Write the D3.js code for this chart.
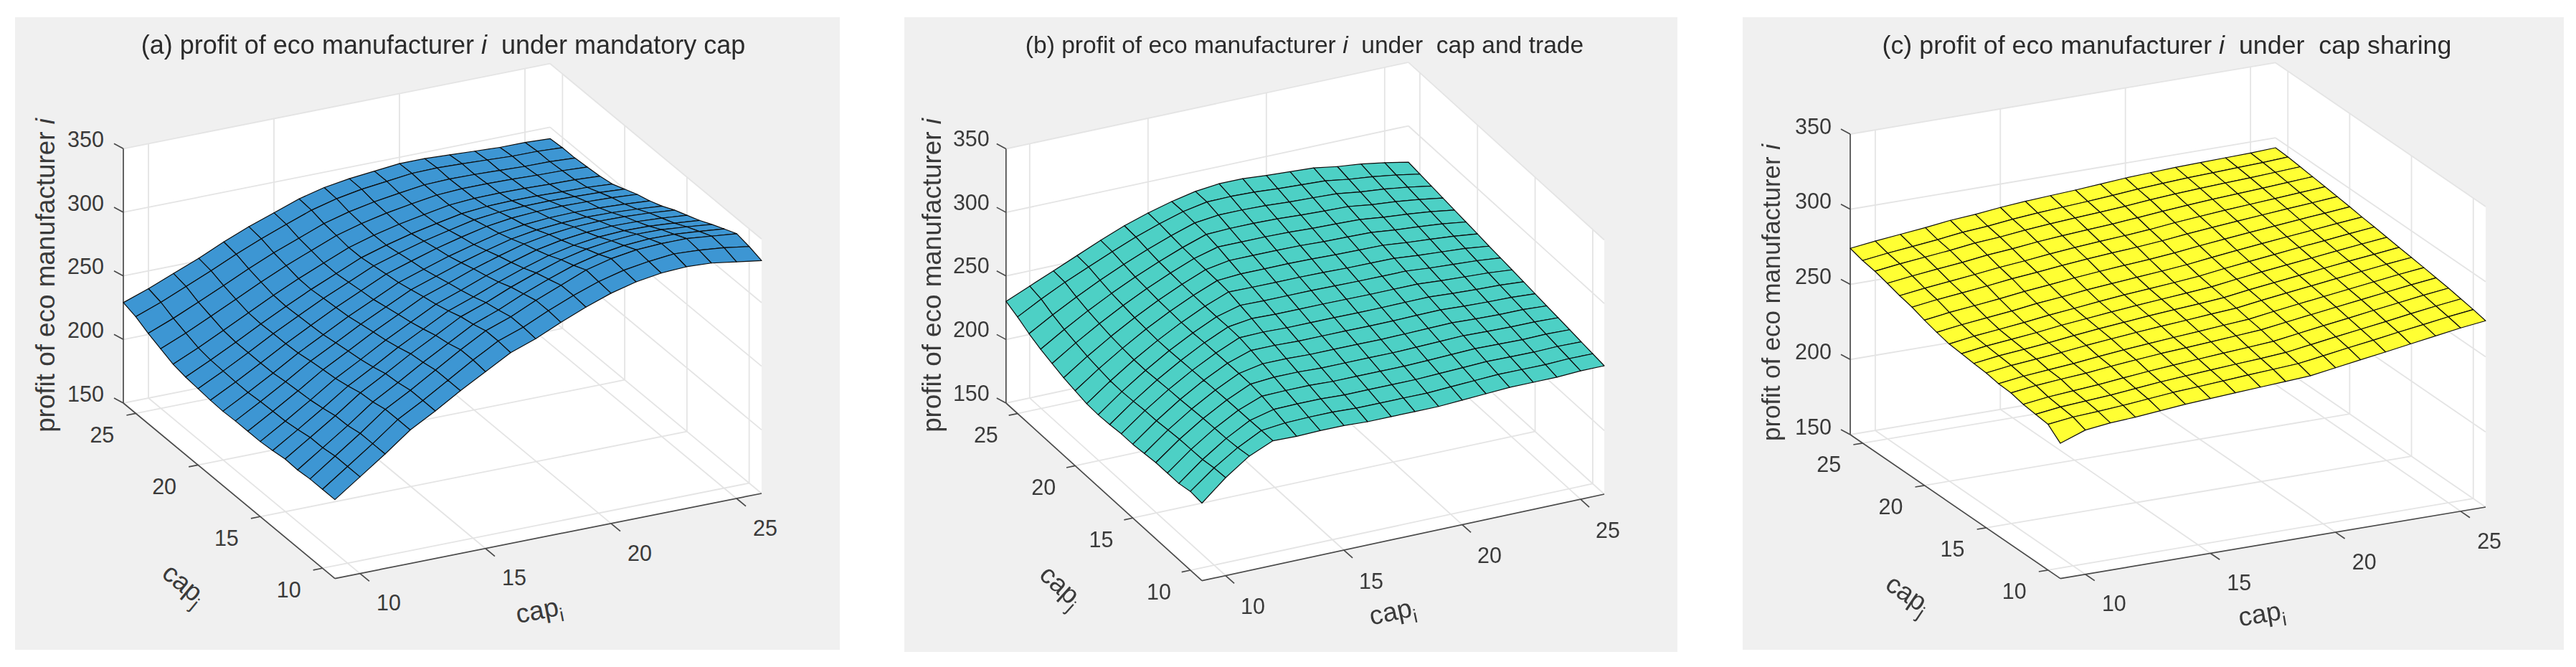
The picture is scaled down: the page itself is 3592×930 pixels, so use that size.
<!DOCTYPE html>
<html><head><meta charset="utf-8">
<script src="https://cdnjs.cloudflare.com/ajax/libs/d3/7.8.5/d3.min.js"></script>
<style>html,body{margin:0;padding:0;background:#fff}svg{display:block}text{font-family:"Liberation Sans",Arial,sans-serif;fill:#3a3a3a;white-space:pre}</style>
</head><body><svg id="c" width="3592" height="930"></svg>
<script>
const capI=[9,10,11,12,13,14,15,16,17,18,19,20,21,22,23,24,25,26];
const capJ=[9,10,11,12,13,14,15,16,17,18,19,20,21,22,23,24,25,26];
const capTicks=[10,15,20,25];
const profitTicks=[150,200,250,300,350];
const titlesA=["(a) profit of eco manufacturer ","i","  under mandatory cap"];
const titlesB=["(b) profit of eco manufacturer ","i","  under  cap and trade"];
const titlesC=["(c) profit of eco manufacturer ","i","  under  cap sharing"];
// rows: capJ ascending; columns: capI ascending
const profitMandatory=[
[212,226,240,255,266,278,289,300,307,316,324,331,336,339,340,339,336,333],
[212,226,240,255,266,278,290,301,308,317,325,332,337,340,342,341,339,336],
[212,226,240,255,266,278,290,301,308,317,325,333,338,341,342,342,340,338],
[211,224.5,238,252.6,263.9,275.9,286.9,297.9,305.3,314,321.6,328.5,333.3,336.3,337.6,337.3,335.6,333.6],
[211.5,224.5,237.6,251.7,262.8,274.5,285,295.8,302.9,311.2,318.4,324.8,329.3,331.9,333.2,332.8,331.1,329.1],
[210,222.5,235.4,248.9,259.9,271.5,281.9,292.3,299.3,307.1,314,320.1,324.2,326.8,327.8,327.4,325.9,324.1],
[209,221.1,233.7,246.8,257.7,269,279.2,289.4,296.4,303.9,310.5,316.3,320.1,322.4,323.3,322.9,321.7,320],
[209,220.7,232.8,245.6,256.3,267.3,277.2,287.2,294,301.2,307.3,312.9,316.4,318.4,319.1,318.7,317.6,316],
[209,220.2,231.9,244.2,254.7,265.4,275,284.6,291.2,297.9,303.6,308.7,311.9,313.5,314.2,313.7,312.6,311],
[208.5,219.3,230.6,242.4,252.9,263.3,272.7,282.1,288.6,294.9,300.2,305.1,307.9,309.4,309.8,309.3,308.4,307],
[209,219.4,230.4,241.7,252.1,262.3,271.5,280.6,286.9,292.9,297.9,302.4,305,306.2,306.6,306.1,305.3,304],
[210,219.9,230.4,241.4,251.5,261.3,270.1,279,285.1,290.6,295.1,299.4,301.6,302.4,302.5,302,301.3,300],
[211,220.4,230.5,240.9,250.8,260.2,268.8,277.3,283.2,288.3,292.4,296.2,298,298.5,298.4,297.7,297.2,295.9],
[213,222,231.7,241.6,251.4,260.6,268.9,277.1,282.9,287.6,291.3,294.8,296.2,296.5,296.2,295.5,295.1,294],
[217,225.4,234.7,244.1,253.7,262.7,270.6,278.5,284,288.3,291.6,294.6,295.7,295.7,295.3,294.5,294.1,293],
[221,228.9,237.7,246.8,256.1,264.7,272.2,279.8,285.1,289,291.9,294.5,295.2,294.8,294.1,293.3,293.1,292],
[226,233.4,241.9,250.3,259.4,267.6,275,282.2,287.3,290.8,293.1,295.4,295.8,295.1,294.2,293.2,293.1,292],
[229,236,244,252,261,269,276,283,288,291,293,295,295,294,293,292,292,291]];
const profitCapTrade=[
[211,227,240,248,247.5,248,248,247,247,247,247,248,249,250,250,250,251,251],
[212,226.4,238.4,247.9,249.8,250.3,250.3,249.4,249.4,249.4,249.3,250.2,251.1,251.9,251.8,251.7,252.4,252.2],
[210,224.8,237.4,247.6,252.2,252.6,252.6,251.7,251.7,251.7,251.7,252.4,253.1,253.9,253.5,253.3,253.8,253.4],
[210,224.6,237.1,247.4,254.5,254.9,254.9,254.1,254.1,254.1,254,254.5,255.2,255.8,255.3,254.9,255.2,254.7],
[210,224.3,236.7,247.2,255.7,257.2,257.2,256.4,256.4,256.4,256.3,256.7,257.2,257.8,257.1,256.7,256.6,255.9],
[209,223.4,235.9,246.8,255.9,259.5,259.5,258.8,258.8,258.8,258.6,258.9,259.3,259.7,258.8,258.2,258.1,257],
[208,222.4,235.2,246.3,255.7,261.8,261.8,261.1,261.1,261.1,260.9,261,261.4,261.6,260.6,259.9,259.5,258.3],
[208,222.2,234.8,245.9,255.5,263.6,264,263.4,263.4,263.4,263.2,263.2,263.4,263.6,262.4,261.5,260.9,259.5],
[207,221.3,234.1,245.4,255.4,263.8,266.4,265.8,265.8,265.8,265.6,265.4,265.5,265.5,264.2,263.2,262.3,260.7],
[206.5,220.7,233.4,244.9,254.9,263.6,268.6,268.2,268.2,268.2,267.9,267.6,267.5,267.5,265.9,264.8,263.7,261.9],
[207,220.9,233.5,244.8,254.9,263.7,270.9,270.6,270.5,270.5,270.2,269.7,269.6,269.4,267.6,266.4,265.1,262.9],
[209,222.3,234.4,245.5,255.4,264,271.6,272.9,272.9,272.9,272.6,272,271.7,271.4,269.5,268.1,266.5,264.3],
[211,223.8,235.5,246.2,255.9,264.5,272,275.2,275.2,275.2,274.9,274.1,273.7,273.3,271.2,269.8,268,265.5],
[214,226.2,237.3,247.6,256.9,265.1,272.5,277.6,277.6,277.6,277.2,276.3,275.8,275.2,273,271.4,269.4,266.7],
[217,228.5,239.2,248.9,257.8,265.8,273,279.3,280,280,279.6,278.5,277.8,277.2,274.7,273.1,270.8,267.9],
[221,231.8,241.8,251,259.5,267.2,274,280.1,282.3,282.3,281.8,280.6,279.9,279.1,276.5,274.7,272.2,269.1],
[226,236,245.2,253.3,261.3,268.8,275.2,280.8,284.4,284.7,284.1,282.8,281.9,281,278.2,276.3,273.6,270.3],
[230,238,246,254,262,269.5,275.5,280.5,284.5,286.5,286.5,285,284,283,280,278,275,271.5]];
const profitCapSharing=[
[240,246,248,249,250.5,252,253,254,255,256,257,259.5,262,264.4,267,269.5,272,274],
[247,249,250,251.2,252.7,254.2,255.2,256.3,257.4,258.4,259.4,261.8,264.3,266.6,269.1,271.4,273.8,275.8],
[248,250.1,251.3,252.4,254,255.6,256.8,257.9,259,260,261.2,263.6,266,268.3,270.6,273,275.3,277.3],
[249,251.1,252.4,253.7,255.4,257,258.3,259.5,260.7,261.8,263,265.4,267.8,270,272.4,274.6,276.9,278.8],
[251,253.1,254.5,255.7,257.5,259,260.4,261.5,262.6,263.8,265,267.3,269.5,271.7,273.9,276,278.2,280],
[251.5,253.7,255.1,256.5,258.4,260,261.4,262.7,263.9,265.2,266.4,268.8,271,273.1,275.2,277.3,279.4,281.2],
[253,255.2,256.7,258.2,260.1,261.7,263.2,264.5,265.7,267,268.2,270.5,272.6,274.6,276.7,278.6,280.6,282.3],
[253.7,256,257.5,259.1,261.1,262.8,264.3,265.8,267.1,268.2,269.6,271.9,273.9,275.9,277.9,279.8,281.6,283.4],
[254.6,256.9,258.5,260.2,262.3,263.9,265.6,267.1,268.4,269.7,271.1,273.4,275.4,277.3,279.1,281,282.8,284.5],
[255.4,257.8,259.5,261.3,263.4,265.1,266.9,268.5,269.8,271.1,272.6,274.8,276.7,278.6,280.5,282.2,284,285.7],
[257.5,259.8,261.6,263.3,265.5,267.1,269,270.4,271.8,273.1,274.6,276.6,278.5,280.2,281.9,283.5,285.2,286.7],
[260,262.3,264,265.8,267.9,269.5,271.3,272.8,274.1,275.3,276.8,278.7,280.4,282,283.5,285,286.4,287.9],
[263,265.2,266.9,268.7,270.7,272.2,274,275.5,276.7,277.8,279.2,281,282.5,283.9,285.2,286.5,287.7,289],
[265,267.2,268.9,270.7,272.7,274.2,276,277.5,278.7,279.8,281.1,282.8,284.2,285.5,286.6,287.7,288.8,290],
[267.6,269.7,271.5,273.1,275.2,276.6,278.4,279.7,280.9,281.9,283.3,284.8,286,287.2,288.1,289,290,291],
[270,272.1,273.8,275.5,277.6,278.8,280.6,282,283.1,284.1,285.3,286.8,287.9,288.8,289.6,290.3,291.1,292],
[271.5,273.6,275.3,277,279.1,280.4,282.2,283.6,284.7,285.7,286.9,288.3,289.3,290.2,290.8,291.4,292,292.9],
[274,276,277.7,279.4,281.4,282.6,284.4,285.7,286.7,287.6,288.8,290,290.8,291.5,291.9,292.3,292.7,293.4]];

const panels=[
 {z:profitMandatory,title:titlesA,color:"#3d96d3",bg:[21,24,1150,882],L:[172,562],F:[467,806.6],R:[1062,688],H:354.7,
  titleX:618,titleSize:36,zl:[63,384,36.8],yOff:[-47,30],xOff:[40,41],zOff:[-27,-13],cj:[256,815,39.7],ci:[752,852,-11.3]},
 {z:profitCapTrade,title:titlesB,color:"#4dd0c5",bg:[1261,24,1078,885],L:[1402.8,562],F:[1676,809.6],R:[2237,689],H:354.5,
  titleX:1819,titleSize:33.6,zl:[1299.5,384,36.8],yOff:[-44,30],xOff:[38,43],zOff:[-23,-14],cj:[1479,818,42],ci:[1942,854,-12]},
 {z:profitCapSharing,title:titlesC,color:"#ffff33",bg:[2430,24,1145,882],L:[2580,606],F:[2873,806.6],R:[3466,707],H:419,
  titleX:3021.5,titleSize:35.8,zl:[2470,408,34.8],yOff:[-47,30],xOff:[40,41],zOff:[-26,-11],cj:[2660,829,34],ci:[3154,857,-9.6]}
];
const sx=d3.scaleLinear().domain([9,26]).range([0,1]);
const sy=d3.scaleLinear().domain([9,26]).range([0,1]);
const sz=d3.scaleLinear().domain([150,350]).range([0,1]);
const svg=d3.select("#c");
const root=svg.append("g").style("filter","blur(0.55px)");
const gridColor="#e4e4e4", axisColor="#4a4a4a";
const xLo=9,xHi=26,yLo=9,yHi=26,zLo=150,zHi=350;

panels.forEach(p=>{
 const P=(x,y,z)=>{const a=sx(x),b=sy(y),c=sz(z);
  return [p.F[0]+a*(p.R[0]-p.F[0])+b*(p.L[0]-p.F[0]),
          p.F[1]+a*(p.R[1]-p.F[1])+b*(p.L[1]-p.F[1])-c*p.H];};
 const g=root.append("g");
 const seg=d3.line();
 g.append("rect").attr("x",p.bg[0]).attr("y",p.bg[1]).attr("width",p.bg[2]).attr("height",p.bg[3]).attr("fill","#f0f0f0");
 g.append("path").attr("fill","#fff").attr("d",seg([P(xLo,yHi,zLo),P(xLo,yLo,zLo),P(xHi,yLo,zLo),P(xHi,yLo,zHi),P(xHi,yHi,zHi),P(xLo,yHi,zHi)])+"Z");
 const gridSegs=[];
 capTicks.forEach(t=>{gridSegs.push([P(t,yLo,zLo),P(t,yHi,zLo)],[P(t,yHi,zLo),P(t,yHi,zHi)]);
                      gridSegs.push([P(xLo,t,zLo),P(xHi,t,zLo)],[P(xHi,t,zLo),P(xHi,t,zHi)]);});
 profitTicks.forEach(t=>{gridSegs.push([P(xLo,yHi,t),P(xHi,yHi,t)],[P(xHi,yHi,t),P(xHi,yLo,t)]);});
 g.append("g").selectAll("path").data(gridSegs).join("path").attr("d",d=>seg(d)).attr("fill","none").attr("stroke",gridColor).attr("stroke-width",1.8);
 const axisSegs=[[P(xLo,yHi,zLo),P(xLo,yHi,zHi)],[P(xLo,yLo,zLo),P(xLo,yHi,zLo)],[P(xLo,yLo,zLo),P(xHi,yLo,zLo)]];
 capTicks.forEach(t=>{axisSegs.push([P(t,yLo,zLo),P(t,yLo-0.75,zLo)]);axisSegs.push([P(xLo,t,zLo),P(xLo-0.37,t,zLo)]);});
 profitTicks.forEach(t=>{const a=P(xLo,yHi,t);axisSegs.push([a,[a[0]-13,a[1]-7]]);});
 g.append("g").selectAll("path").data(axisSegs).join("path").attr("d",d=>seg(d)).attr("fill","none").attr("stroke",axisColor).attr("stroke-width",1.7);

 // tick labels
 const lab=(sel,fn,anchor)=>sel.join("text").attr("font-size",30.5).attr("text-anchor",anchor).attr("dy","0.35em")
   .attr("x",d=>fn(d)[0]).attr("y",d=>fn(d)[1]).text(d=>d);
 lab(g.append("g").selectAll("text").data(capTicks),t=>{const a=P(t,yLo,zLo);return [a[0]+p.xOff[0],a[1]+p.xOff[1]];},"middle");
 lab(g.append("g").selectAll("text").data(capTicks),t=>{const a=P(xLo,t,zLo);return [a[0]+p.yOff[0],a[1]+p.yOff[1]];},"middle");
 lab(g.append("g").selectAll("text").data(profitTicks),t=>{const a=P(xLo,yHi,t);return [a[0]+p.zOff[0],a[1]+p.zOff[1]];},"end");

 // axis titles
 const zt=g.append("text").attr("font-size",p.zl[2]).attr("text-anchor","middle").attr("dy","0.35em")
   .attr("transform",`translate(${p.zl[0]},${p.zl[1]}) rotate(-90)`);
 zt.append("tspan").text("profit of eco manufacturer ");
 zt.append("tspan").attr("font-style","italic").text("i");
 const sub=(c,base,s)=>{const t=g.append("text").attr("font-size",37).attr("text-anchor","middle").attr("dy","0.3em")
   .attr("transform",`translate(${c[0]},${c[1]}) rotate(${c[2]})`);
   t.append("tspan").text(base);
   t.append("tspan").attr("font-size",26).attr("dy","0.35em").text(s);};
 sub(p.cj,"cap","j");
 sub(p.ci,"cap","i");

 // surface
 const cells=[];
 for(let j=0;j<capJ.length-1;j++)for(let i=0;i<capI.length-1;i++){
  cells.push({i,j,pts:[P(capI[i],capJ[j],p.z[j][i]),P(capI[i+1],capJ[j],p.z[j][i+1]),P(capI[i+1],capJ[j+1],p.z[j+1][i+1]),P(capI[i],capJ[j+1],p.z[j+1][i])]});
 }
 cells.sort((a,b)=>(b.i+b.j)-(a.i+a.j));
 g.append("g").selectAll("path").data(cells).join("path").attr("d",d=>seg(d.pts)+"Z")
  .attr("fill",p.color).attr("stroke","#0c0c0c").attr("stroke-width",1.2).attr("stroke-linejoin","round");

 // title
 const tt=g.append("text").attr("x",p.titleX).attr("y",62).attr("dy","0.35em").attr("text-anchor","middle").attr("font-size",p.titleSize).style("fill","#2b2b2b");
 tt.append("tspan").text(p.title[0]);
 tt.append("tspan").attr("font-style","italic").text(p.title[1]);
 tt.append("tspan").text(p.title[2]);
});
</script></body></html>
